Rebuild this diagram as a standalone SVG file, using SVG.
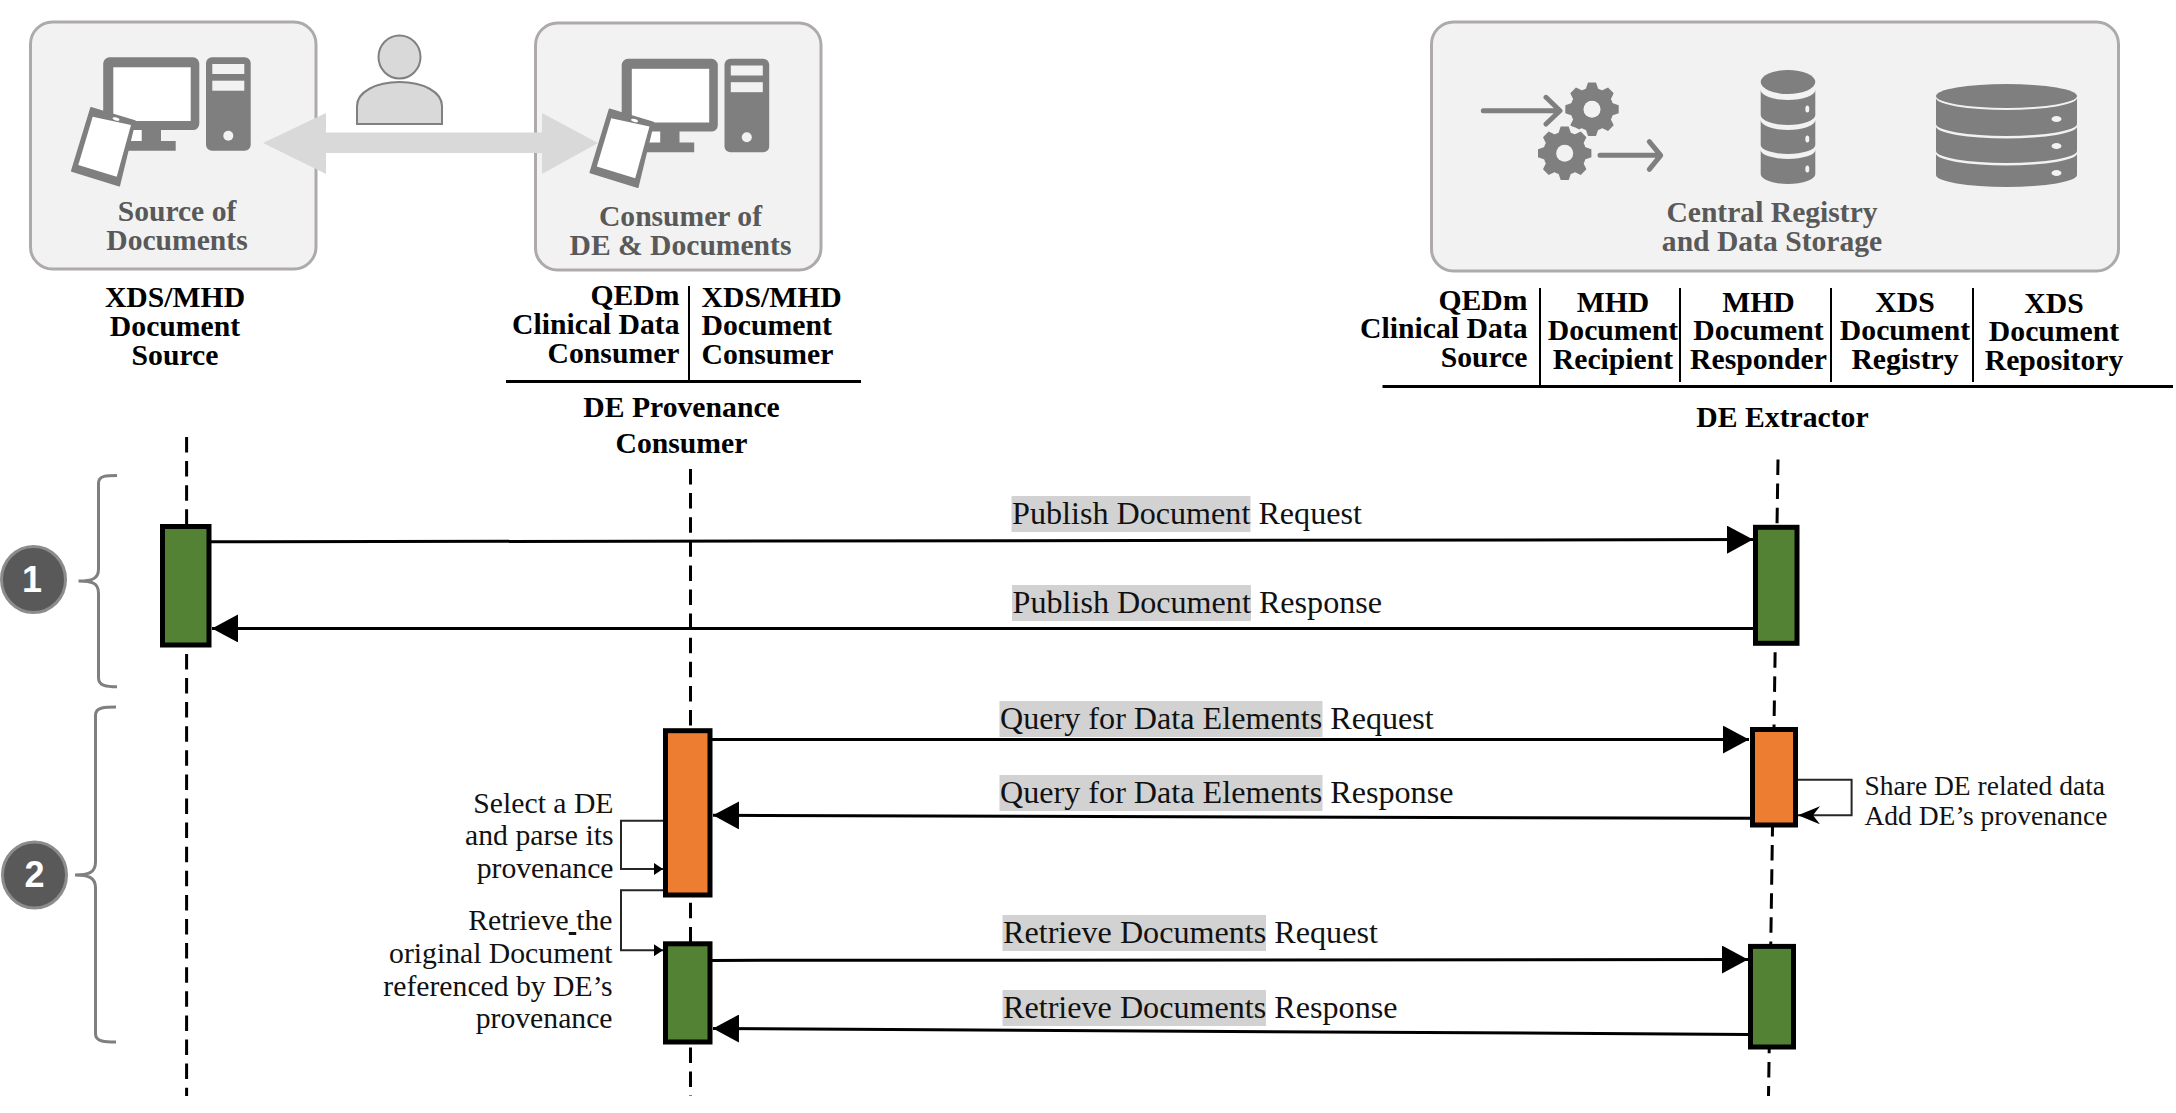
<svg xmlns="http://www.w3.org/2000/svg" xmlns:xlink="http://www.w3.org/1999/xlink" width="2176" height="1113" viewBox="0 0 2176 1113">
<style>
text{font-family:"Liberation Serif","Times New Roman",serif;fill:#000}
.b{font-weight:bold;font-size:29.700px}
.m{text-anchor:middle}
.e{text-anchor:end}
.g{font-weight:bold;font-size:29.600px;fill:#595959;text-anchor:middle}
.msg{font-size:32.150px;fill:#111}
.note{font-size:29.700px;fill:#111;text-anchor:end}
.note2{font-size:27.500px;fill:#111}
.panel{fill:#f2f2f2;stroke:#aeaaaa;stroke-width:3}
.hl{fill:#d2d2d2}
.ico{fill:#7f7f7f}
.ln{stroke:#7f7f7f;stroke-width:5;stroke-linecap:round;stroke-linejoin:round;fill:none}
.rule{stroke:#000;stroke-width:2;fill:none}
.rule2{stroke:#000;stroke-width:3;fill:none}
.life{stroke:#000;stroke-width:3;stroke-dasharray:15.500 8.600;fill:none}
.msgline{stroke:#000;stroke-width:3;fill:none}
.self{stroke:#262626;stroke-width:2;fill:none}
.brace{stroke:#7f7f7f;stroke-width:3;fill:none}
.act{stroke:#000;stroke-width:5}
.green{fill:#548235}
.orange{fill:#ed7d31}
.num{fill:#595959;stroke:#8c8c8c;stroke-width:3}
.numt{font-family:"Liberation Sans",Arial,sans-serif;font-weight:bold;font-size:36px;fill:#fff;text-anchor:middle}
</style>
<defs>
<g id="workstation">
<path class="ico" d="M109.500,57.300H193a6.300,6.300 0 0 1 6.300,6.300V123.700a6.300,6.300 0 0 1 -6.300,6.300H161V141H175.700V150.700H120V130H109.500a6.300,6.300 0 0 1 -6.300,-6.300V63.600a6.300,6.300 0 0 1 6.300,-6.300Z"/>
<rect x="113.300" y="67.300" width="77.400" height="53.700" fill="#fff"/>
<rect x="126" y="130" width="15.700" height="11" fill="#fff"/>
<rect class="ico" x="206" y="57.300" width="44.700" height="93.400" rx="6"/>
<rect x="212.300" y="64" width="32" height="10" fill="#f2f2f2"/>
<rect x="212.300" y="80.700" width="32" height="10" fill="#f2f2f2"/>
<circle cx="228.300" cy="135.700" r="5" fill="#f2f2f2"/>
<path d="M91,107.700L135,121L119.300,185.700L71.700,171Z" fill="#7f7f7f" stroke="#7f7f7f" stroke-width="1.500" stroke-linejoin="round"/>
<path d="M92.700,116.700L131,125L116.700,176.700L78.300,165Z" fill="#fff"/>
<ellipse cx="116" cy="119" rx="3.500" ry="1.500" fill="#fff" transform="rotate(15 116 119)"/>
</g>
<g id="gear">
<circle r="21.500" class="ico"/>
<path class="ico" d="M-4,-26.700H4L7,-18H-7Z"/>
<path class="ico" d="M-4,-26.700H4L7,-18H-7Z" transform="rotate(45)"/>
<path class="ico" d="M-4,-26.700H4L7,-18H-7Z" transform="rotate(90)"/>
<path class="ico" d="M-4,-26.700H4L7,-18H-7Z" transform="rotate(135)"/>
<path class="ico" d="M-4,-26.700H4L7,-18H-7Z" transform="rotate(180)"/>
<path class="ico" d="M-4,-26.700H4L7,-18H-7Z" transform="rotate(225)"/>
<path class="ico" d="M-4,-26.700H4L7,-18H-7Z" transform="rotate(270)"/>
<path class="ico" d="M-4,-26.700H4L7,-18H-7Z" transform="rotate(315)"/>
<circle r="8.500" fill="#f2f2f2"/>
</g>
<marker id="solid" markerUnits="userSpaceOnUse" viewBox="0 0 26 28" refX="26" refY="14" markerWidth="26" markerHeight="28" orient="auto"><path d="M0,0L26,14L0,28Z" fill="#000"/></marker>
<marker id="small" markerUnits="userSpaceOnUse" viewBox="0 0 9 12" refX="9" refY="6" markerWidth="9" markerHeight="12" orient="auto"><path d="M0,0L9,6L0,12Z" fill="#000"/></marker>
<marker id="stealth" markerUnits="userSpaceOnUse" viewBox="0 0 22 18" refX="22" refY="9" markerWidth="22" markerHeight="18" orient="auto"><path d="M0,0L22,9L0,18L7,9Z" fill="#000"/></marker>
</defs>

<g id="connectors">
<path class="life" d="M186.600,437V1096"/>
<path class="life" d="M690.500,469V1096"/>
<path class="life" d="M1778,459.500L1768.500,1096"/>
<path class="msgline" marker-end="url(#solid)" d="M211,541.800L1753,539.600"/>
<path class="msgline" marker-end="url(#solid)" d="M1753,628.400H212"/>
<path class="msgline" marker-end="url(#solid)" d="M712,739.600H1749"/>
<path class="msgline" marker-end="url(#solid)" d="M1750,818.300L713,815.300"/>
<path class="msgline" marker-end="url(#solid)" d="M712,960.400L1748,959.500"/>
<path class="msgline" marker-end="url(#solid)" d="M1748,1034.400L713,1028.400"/>
<path class="self" marker-end="url(#stealth)" d="M1798,779.800H1851.600V815.300H1798"/>
<path class="self" marker-end="url(#small)" d="M663,820.800H621V869H663"/>
<path class="self" marker-end="url(#small)" d="M663,890.200H621V950.200H663"/>
<path class="brace" d="M117,475.400C107,475.400 98.500,475.400 98.500,483V569C98.500,579 92,581 78.500,581C92,581 98.500,583 98.500,593V678C98.500,686 107,686.800 117,686.800"/>
<path class="brace" d="M116,707C106,707 95.500,707 95.500,715V862C95.500,873 88,875 75,875C88,875 95.500,877 95.500,888V1034C95.500,1042 106,1042 116,1042"/>
</g>

<g id="source-of-documents">
<rect class="panel" x="30.500" y="22" width="285.500" height="247" rx="22"/>
<use xlink:href="#workstation" href="#workstation"/>
<text class="g" x="177" y="221">Source of</text>
<text class="g" x="177" y="250">Documents</text>
</g>
<g id="consumer-of-de-documents">
<rect class="panel" x="535.500" y="23" width="285.500" height="247" rx="22"/>
<use xlink:href="#workstation" href="#workstation" transform="translate(518.500 1.500)"/>
<text class="g" x="680.500" y="225.500">Consumer of</text>
<text class="g" x="680.500" y="254.500">DE &amp; Documents</text>
</g>
<g id="user-exchange">
<ellipse cx="399.500" cy="57" rx="21" ry="21.500" fill="#d9d9d9" stroke="#808080" stroke-width="2"/>
<path d="M357,124V106C357,92 376,82 399.500,82C423,82 442,92 442,106V124Z" fill="#d9d9d9" stroke="#808080" stroke-width="2"/>
<path d="M263,143L326,113V132.500H542V113L598,143L542,174V153H326V174Z" fill="#d9d9d9"/>
</g>
<g id="central-registry">
<rect class="panel" x="1431.500" y="22" width="687" height="249" rx="22"/>
<path class="ln" d="M1483.300,110.700H1559M1546,97.300L1560,110.700L1546,124"/>
<use xlink:href="#gear" href="#gear" transform="translate(1592 109.300)"/>
<circle cx="1564.700" cy="153.300" r="28" fill="#f2f2f2"/>
<use xlink:href="#gear" href="#gear" transform="translate(1564.700 153.300)"/>
<path class="ln" d="M1600,155.300H1660M1649.300,141.700L1660.700,155.300L1649.300,169.300"/>
<g class="ico">
<ellipse cx="1788" cy="82" rx="27.300" ry="12"/>
<path d="M1760.700,90A27.300,10 0 0 0 1815.300,90V115A27.300,10 0 0 1 1760.700,115Z"/>
<path d="M1760.700,120A27.300,10 0 0 0 1815.300,120V145A27.300,9 0 0 1 1760.700,145Z"/>
<path d="M1760.700,150A27.300,9 0 0 0 1815.300,150V174A27.300,10 0 0 1 1760.700,174Z"/>
<ellipse cx="2006.500" cy="96" rx="70.500" ry="12"/>
<path d="M1936,98A70.500,12 0 0 0 2077,98V124A70.500,12 0 0 1 1936,124Z"/>
<path d="M1936,126.500A70.500,12 0 0 0 2077,126.500V151A70.500,12 0 0 1 1936,151Z"/>
<path d="M1936,153.500A70.500,12 0 0 0 2077,153.500V175A70.500,12 0 0 1 1936,175Z"/>
</g>
<g fill="#f2f2f2">
<ellipse cx="1807.300" cy="109" rx="2" ry="3.500"/><ellipse cx="1807.300" cy="139" rx="2" ry="3.500"/><ellipse cx="1807.300" cy="169" rx="2" ry="3.500"/>
<ellipse cx="2056.500" cy="119" rx="5" ry="3"/><ellipse cx="2056.500" cy="146" rx="5" ry="3"/><ellipse cx="2056.500" cy="173" rx="5" ry="3"/>
</g>
<text class="g" x="1772" y="221.500">Central Registry</text>
<text class="g" x="1772" y="250.500">and Data Storage</text>
</g>

<g id="actor-source">
<text class="b m" x="175" y="307">XDS/MHD</text>
<text class="b m" x="175" y="335.500">Document</text>
<text class="b m" x="175" y="365">Source</text>
</g>
<g id="actor-consumer">
<text class="b e" x="679.500" y="305">QEDm</text>
<text class="b e" x="679.500" y="333.500">Clinical Data</text>
<text class="b e" x="679.500" y="362.500">Consumer</text>
<text class="b" x="701.500" y="307">XDS/MHD</text>
<text class="b" x="701.500" y="335">Document</text>
<text class="b" x="701.500" y="363.500">Consumer</text>
<path class="rule" d="M689,286V380"/>
<path class="rule2" d="M506,381.500H861"/>
<text class="b m" x="681.500" y="416.500">DE Provenance</text>
<text class="b m" x="681.500" y="452.500">Consumer</text>
</g>
<g id="actor-extractor">
<text class="b e" x="1527.500" y="310">QEDm</text>
<text class="b e" x="1527.500" y="338">Clinical Data</text>
<text class="b e" x="1527.500" y="367">Source</text>
<text class="b m" x="1613" y="312">MHD</text>
<text class="b m" x="1613" y="340">Document</text>
<text class="b m" x="1613" y="369">Recipient</text>
<text class="b m" x="1758.500" y="312">MHD</text>
<text class="b m" x="1758.500" y="340">Document</text>
<text class="b m" x="1758.500" y="369">Responder</text>
<text class="b m" x="1905" y="312">XDS</text>
<text class="b m" x="1905" y="340">Document</text>
<text class="b m" x="1905" y="369">Registry</text>
<text class="b m" x="2054" y="312.500">XDS</text>
<text class="b m" x="2054" y="341">Document</text>
<text class="b m" x="2054" y="370">Repository</text>
<path class="rule" d="M1540,288V385M1680,288V382M1831,288V382M1973,288V382"/>
<path class="rule2" d="M1382.500,386.500H2173"/>
<text class="b m" x="1782.500" y="427">DE Extractor</text>
</g>

<g id="activation-a"><rect class="act green" x="162.500" y="526.500" width="46.500" height="118.500"/></g>
<g id="activation-b"><rect class="act orange" x="665.500" y="730.700" width="44.500" height="164.300"/></g>
<g id="activation-c"><rect class="act green" x="665.500" y="943.800" width="44.500" height="98.200"/></g>
<g id="activation-d"><rect class="act green" x="1755.500" y="527.300" width="41.500" height="116"/></g>
<g id="activation-e"><rect class="act orange" x="1752.500" y="729.500" width="43" height="95.500"/></g>
<g id="activation-f"><rect class="act green" x="1750.500" y="946.400" width="43" height="100.600"/></g>

<g id="step-1">
<ellipse class="num" cx="33.500" cy="579.500" rx="32" ry="33"/>
<text class="numt" x="32" y="591.800">1</text>
</g>
<g id="step-2">
<ellipse class="num" cx="34.500" cy="875" rx="32" ry="33"/>
<text class="numt" x="34.500" y="887">2</text>
</g>

<g id="messages">
<rect class="hl" x="1011.500" y="496" width="239" height="36"/>
<text class="msg" x="1012" y="523.500">Publish Document Request</text>
<rect class="hl" x="1012" y="585" width="239" height="36"/>
<text class="msg" x="1012.500" y="612.500">Publish Document Response</text>
<rect class="hl" x="999.500" y="701" width="323" height="36"/>
<text class="msg" x="1000" y="729">Query for Data Elements Request</text>
<rect class="hl" x="999.500" y="775" width="323" height="36"/>
<text class="msg" x="1000" y="803">Query for Data Elements Response</text>
<rect class="hl" x="1002.500" y="915" width="263.500" height="36"/>
<text class="msg" x="1003" y="942.500">Retrieve Documents Request</text>
<rect class="hl" x="1002.500" y="990" width="263.500" height="36"/>
<text class="msg" x="1003" y="1017.500">Retrieve Documents Response</text>
<text class="note" x="613.500" y="812.800">Select a DE</text>
<text class="note" x="613.500" y="844.800">and parse its</text>
<text class="note" x="613.500" y="878">provenance</text>
<text class="note" x="612.500" y="930">Retrieve<tspan text-decoration="underline"> </tspan>the</text>
<text class="note" x="612.500" y="962.500">original Document</text>
<text class="note" x="612.500" y="995.500">referenced by DE’s</text>
<text class="note" x="612.500" y="1027.500">provenance</text>
<text class="note2" x="1864.500" y="794.600">Share DE related data</text>
<text class="note2" x="1864.500" y="825">Add DE’s provenance</text>
</g>
</svg>
